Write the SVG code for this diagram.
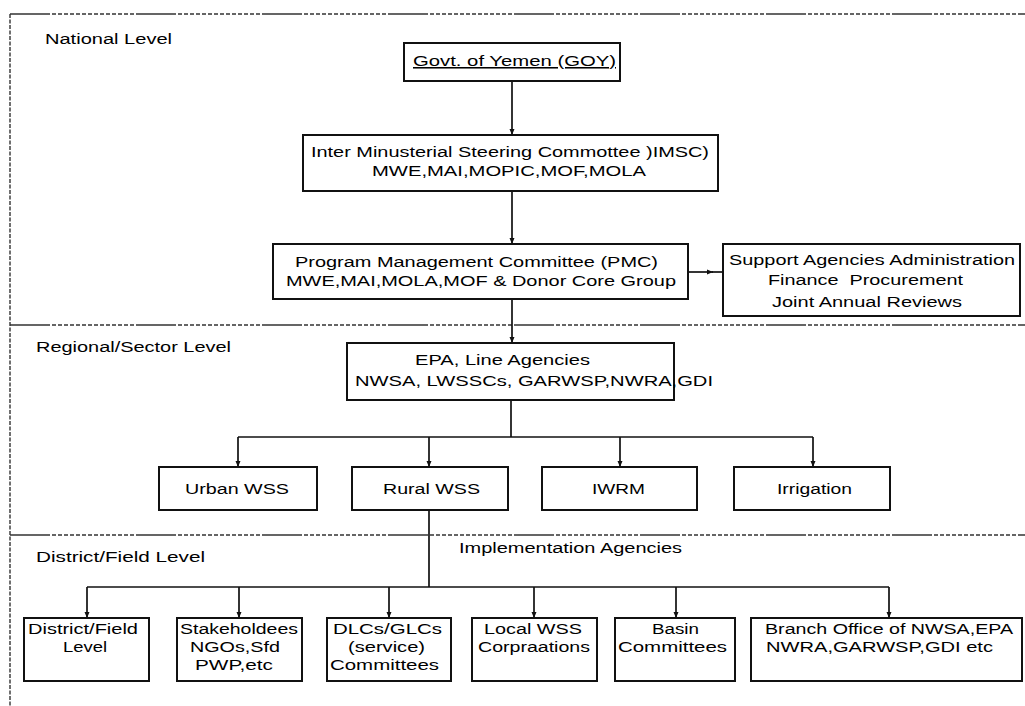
<svg xmlns="http://www.w3.org/2000/svg" width="1025" height="706" viewBox="0 0 1025 706">
<style>
.bg{fill:#ffffff}
.box{fill:#ffffff;stroke:#111111;stroke-width:2}
.t{font-family:"Liberation Sans",Arial,sans-serif;font-size:15.5px;fill:#000000}
.sep{stroke:#333333;stroke-width:1.5;fill:none;stroke-dasharray:40 2 4 2 4 2 4 2 4 2 4 2 4 2 4 2 4 2 4 2 4 2 4 2 4 2 4 2 4 2}
.vsep{stroke:#333333;stroke-width:1.4;fill:none;stroke-dasharray:4 1.5}
.c{stroke:#111111;stroke-width:1.7;fill:none}
</style>
<defs>
<marker id="ah" markerUnits="userSpaceOnUse" markerWidth="6" markerHeight="6" refX="6" refY="3" orient="auto">
<path d="M0,0.5 L6,3 L0,5.5 z" fill="#111111"/>
</marker>
</defs>
<rect class="bg" x="0" y="0" width="1025" height="706"/>

<g id="levels">
<line class="sep" x1="10" y1="14" x2="1025" y2="14"/>
<line class="vsep" x1="10" y1="14" x2="10" y2="706"/>
<line class="sep" x1="10" y1="325" x2="1025" y2="325"/>
<line class="sep" x1="10" y1="535" x2="1025" y2="535"/>
<text class="t" x="45" y="44" textLength="127" lengthAdjust="spacingAndGlyphs">National Level</text>
<text class="t" x="36" y="352" textLength="195" lengthAdjust="spacingAndGlyphs">Regional/Sector Level</text>
<text class="t" x="36" y="562" textLength="169" lengthAdjust="spacingAndGlyphs">District/Field Level</text>
<text class="t" x="459" y="553" textLength="223" lengthAdjust="spacingAndGlyphs">Implementation Agencies</text>
</g>

<g id="connectors">
<path class="c" d="M512,81 V135" marker-end="url(#ah)"/>
<path class="c" d="M512,191 V244" marker-end="url(#ah)"/>
<path class="c" d="M688,272 H713" marker-end="url(#ah)"/>
<path class="c" d="M712,272 H723"/>
<path class="c" d="M512,299 V343" marker-end="url(#ah)"/>
<path class="c" d="M511,400 V437"/>
<path class="c" d="M238,437 H813"/>
<path class="c" d="M238,437 V467" marker-end="url(#ah)"/>
<path class="c" d="M429,437 V467" marker-end="url(#ah)"/>
<path class="c" d="M620,437 V467" marker-end="url(#ah)"/>
<path class="c" d="M813,437 V467" marker-end="url(#ah)"/>
<path class="c" d="M429,510 V587"/>
<path class="c" d="M87,587 H889"/>
<path class="c" d="M87,587 V618" marker-end="url(#ah)"/>
<path class="c" d="M239,587 V618" marker-end="url(#ah)"/>
<path class="c" d="M389,587 V618" marker-end="url(#ah)"/>
<path class="c" d="M534,587 V618" marker-end="url(#ah)"/>
<path class="c" d="M676,587 V618" marker-end="url(#ah)"/>
<path class="c" d="M889,587 V618" marker-end="url(#ah)"/>
</g>

<g id="goy">
<rect class="box" x="404" y="43" width="216" height="38"/>
<text class="t" x="413" y="66" textLength="203" lengthAdjust="spacingAndGlyphs" text-decoration="underline">Govt. of Yemen (GOY)</text>
</g>

<g id="imsc">
<rect class="box" x="303" y="135" width="415" height="56"/>
<text class="t" x="311" y="157" textLength="398" lengthAdjust="spacingAndGlyphs">Inter Minusterial Steering Commottee )IMSC)</text>
<text class="t" x="372" y="176" textLength="274" lengthAdjust="spacingAndGlyphs">MWE,MAI,MOPIC,MOF,MOLA</text>
</g>

<g id="pmc">
<rect class="box" x="273" y="244" width="415" height="55"/>
<text class="t" x="295" y="267" textLength="363" lengthAdjust="spacingAndGlyphs">Program Management Committee (PMC)</text>
<text class="t" x="286" y="286" textLength="390" lengthAdjust="spacingAndGlyphs">MWE,MAI,MOLA,MOF &amp; Donor Core Group</text>
</g>

<g id="support">
<rect class="box" x="723" y="244" width="297" height="72"/>
<text class="t" x="729" y="265" textLength="286" lengthAdjust="spacingAndGlyphs">Support Agencies Administration</text>
<text class="t" x="768" y="285" textLength="195" lengthAdjust="spacingAndGlyphs" xml:space="preserve">Finance  Procurement</text>
<text class="t" x="772" y="307" textLength="190" lengthAdjust="spacingAndGlyphs">Joint Annual Reviews</text>
</g>

<g id="epa">
<rect class="box" x="347" y="343" width="327" height="57"/>
<text class="t" x="415" y="365" textLength="175" lengthAdjust="spacingAndGlyphs">EPA, Line Agencies</text>
<text class="t" x="355" y="386" textLength="358" lengthAdjust="spacingAndGlyphs">NWSA, LWSSCs, GARWSP,NWRA,GDI</text>
</g>

<g id="urban">
<rect class="box" x="159" y="467" width="158" height="43"/>
<text class="t" x="185" y="494" textLength="104" lengthAdjust="spacingAndGlyphs">Urban WSS</text>
</g>
<g id="rural">
<rect class="box" x="352" y="467" width="156" height="43"/>
<text class="t" x="383" y="494" textLength="97" lengthAdjust="spacingAndGlyphs">Rural WSS</text>
</g>
<g id="iwrm">
<rect class="box" x="542" y="467" width="155" height="43"/>
<text class="t" x="592" y="494" textLength="53" lengthAdjust="spacingAndGlyphs">IWRM</text>
</g>
<g id="irrigation">
<rect class="box" x="734" y="467" width="156" height="43"/>
<text class="t" x="777" y="494" textLength="75" lengthAdjust="spacingAndGlyphs">Irrigation</text>
</g>

<g id="district">
<rect class="box" x="24" y="618" width="125" height="63"/>
<text class="t" x="28" y="634" textLength="110" lengthAdjust="spacingAndGlyphs">District/Field</text>
<text class="t" x="63" y="652" textLength="44" lengthAdjust="spacingAndGlyphs">Level</text>
</g>
<g id="stakeholders">
<rect class="box" x="177" y="618" width="125" height="63"/>
<text class="t" x="180" y="634" textLength="118" lengthAdjust="spacingAndGlyphs">Stakeholdees</text>
<text class="t" x="190" y="652" textLength="90" lengthAdjust="spacingAndGlyphs">NGOs,Sfd</text>
<text class="t" x="195" y="670" textLength="78" lengthAdjust="spacingAndGlyphs">PWP,etc</text>
</g>
<g id="dlcs">
<rect class="box" x="327" y="618" width="124" height="63"/>
<text class="t" x="333" y="634" textLength="109" lengthAdjust="spacingAndGlyphs">DLCs/GLCs</text>
<text class="t" x="348" y="652" textLength="77" lengthAdjust="spacingAndGlyphs">(service)</text>
<text class="t" x="330" y="670" textLength="109" lengthAdjust="spacingAndGlyphs">Committees</text>
</g>
<g id="localwss">
<rect class="box" x="472" y="618" width="125" height="63"/>
<text class="t" x="484" y="634" textLength="98" lengthAdjust="spacingAndGlyphs">Local WSS</text>
<text class="t" x="478" y="652" textLength="112" lengthAdjust="spacingAndGlyphs">Corpraations</text>
</g>
<g id="basin">
<rect class="box" x="615" y="618" width="120" height="63"/>
<text class="t" x="652" y="634" textLength="47" lengthAdjust="spacingAndGlyphs">Basin</text>
<text class="t" x="618" y="652" textLength="109" lengthAdjust="spacingAndGlyphs">Committees</text>
</g>
<g id="branch">
<rect class="box" x="751" y="618" width="271" height="63"/>
<text class="t" x="765" y="634" textLength="248" lengthAdjust="spacingAndGlyphs">Branch Office of NWSA,EPA</text>
<text class="t" x="766" y="652" textLength="227" lengthAdjust="spacingAndGlyphs">NWRA,GARWSP,GDI etc</text>
</g>
</svg>
